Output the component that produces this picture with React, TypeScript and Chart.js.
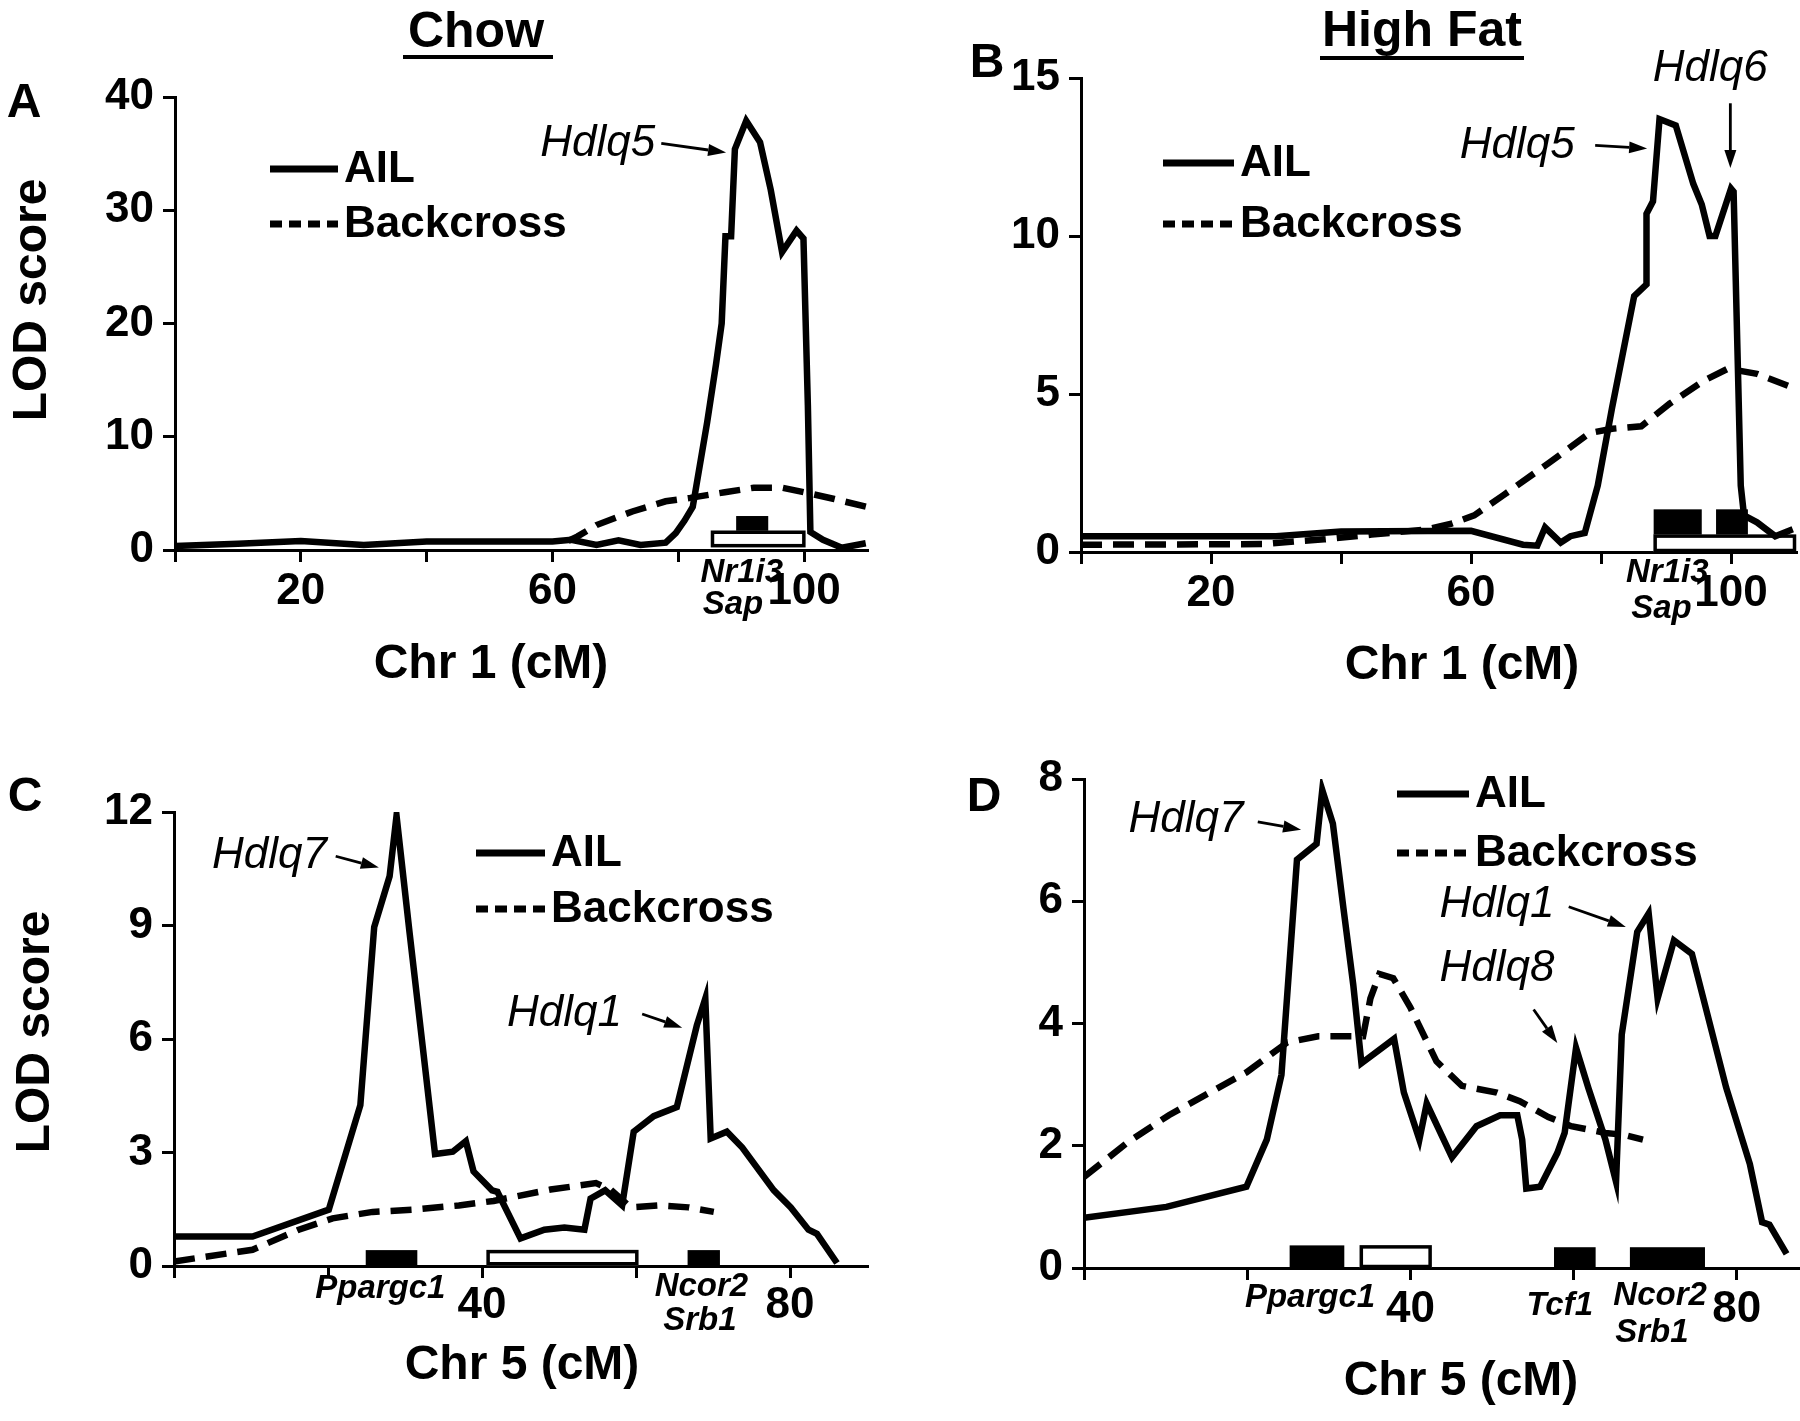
import React, { useEffect, useRef } from "react";
import { Chart, registerables } from "chart.js";

Chart.register(...registerables);

const FONT = '"Liberation Sans", Arial, Helvetica, sans-serif';

// ---------- DATA (cM, LOD) ----------
const A_AIL: [number, number][] = [
  [0, 0.35], [10, 0.55], [20, 0.8], [30, 0.45], [40, 0.75], [50, 0.75], [60, 0.75], [63, 0.9], [67, 0.45],
  [70.5, 0.85], [74, 0.45], [78, 0.65], [79.6, 1.5], [81, 2.6], [82.3, 3.8], [84.6, 11.3], [86, 16.4],
  [86.9, 20], [87.5, 27.7], [88.4, 27.7], [89, 35.4], [90.8, 37.9], [93, 36], [94.7, 31.8], [96.5, 26.3],
  [98.8, 28.2], [99.9, 27.5], [100.6, 12.8], [101, 1.6], [103, 0.9], [106, 0.2], [109.8, 0.6],
];
const A_BACKCROSS: [number, number][] = [
  [62.5, 0.8], [64, 1.2], [67, 2.2], [72.7, 3.4], [78, 4.3], [81.9, 4.6], [87.4, 5.1], [92, 5.5],
  [96.5, 5.5], [100, 5.1], [104.8, 4.5], [110, 3.8],
];

const B_AIL: [number, number][] = [
  [0, 0.5], [30, 0.5], [40, 0.65], [60, 0.67], [68, 0.23], [70.2, 0.2], [71.4, 0.78], [73.8, 0.3],
  [75.3, 0.5], [77.5, 0.6], [79.5, 2.1], [81.7, 4.56], [85.1, 8.1], [87, 8.47], [87, 10.7], [88, 11.1],
  [89, 13.7], [91.5, 13.5], [94.2, 11.65], [95.5, 11], [96.7, 10], [97.6, 10], [100, 11.5], [100.4, 11.4],
  [101.5, 2.1], [102, 1.16], [104, 0.94], [106.8, 0.5], [109.5, 0.72],
];
const B_BACKCROSS: [number, number][] = [
  [0, 0.23], [28, 0.25], [33, 0.34], [37.4, 0.4], [44.7, 0.55], [53.4, 0.72], [57, 0.9], [60.5, 1.16],
  [65, 1.8], [72, 2.82], [78.2, 3.76], [81.7, 3.9], [86.2, 3.98], [90.6, 4.7], [95.9, 5.43], [99.5, 5.8],
  [104, 5.64], [109.5, 5.2],
];

const C_AIL: [number, number][] = [
  [0, 0.78], [10.2, 0.78], [20.1, 1.49], [24.2, 4.25], [26, 8.96], [28, 10.3], [28.9, 11.9], [30.6, 8.8],
  [32.3, 5.8], [33.9, 2.96], [36.2, 3.02], [37.9, 3.3], [38.9, 2.5], [41.3, 2.0], [42, 1.96], [45, 0.73],
  [48.1, 0.96], [50.7, 1.02], [53.3, 0.96], [54.1, 1.78], [56, 2.0], [58.2, 1.6], [59.7, 3.55], [62.3, 3.96],
  [65.3, 4.2], [67.9, 6.36], [69, 7.07], [69.7, 3.37], [71.8, 3.55], [73.8, 3.13], [77.9, 2.0], [80.1, 1.55],
  [82.4, 0.96], [83.5, 0.85], [86.1, 0.08],
];
const C_BACKCROSS: [number, number][] = [
  [0, 0.12], [10.2, 0.43], [16.2, 0.96], [20.6, 1.26], [25.8, 1.43], [31, 1.49], [37, 1.6], [41.5, 1.72],
  [48.9, 2.02], [54.8, 2.19], [56.7, 2.02], [59.3, 1.55], [63, 1.6], [66.8, 1.55], [70.1, 1.43],
];

const D_AIL: [number, number][] = [
  [0, 0.82], [10.1, 1.0], [19.9, 1.33], [22.4, 2.1], [24.2, 3.16], [26.1, 6.68], [28.5, 6.94], [29.2, 7.82],
  [30.5, 7.27], [31.8, 5.88], [33, 4.63], [34, 3.35], [38, 3.75], [39.2, 2.87], [41.1, 2.1], [42, 2.69],
  [45.1, 1.81], [48.1, 2.32], [51, 2.5], [53.1, 2.5], [53.7, 2.1], [54.2, 1.3], [55.9, 1.33], [58, 1.88],
  [58.9, 2.21], [60.3, 3.6], [61.8, 2.95], [63.9, 2.1], [65.2, 1.41], [65.9, 3.82], [67.8, 5.5], [69.2, 5.8],
  [70.3, 4.41], [72.3, 5.36], [74.5, 5.14], [78.7, 2.95], [81.6, 1.7], [83.1, 0.75], [84, 0.71], [86.1, 0.23],
];
const D_BACKCROSS: [number, number][] = [
  [0, 1.49], [5.5, 2.07], [10.4, 2.5], [15.4, 2.87], [19.9, 3.2], [24.9, 3.69], [28.7, 3.79], [33, 3.79],
  [34.2, 3.79], [35.1, 4.41], [36.2, 4.81], [37.9, 4.74], [40, 4.26], [43.2, 3.38], [46.3, 2.98], [50.6, 2.87],
  [53.4, 2.73], [56.9, 2.47], [59.7, 2.32], [63.9, 2.21], [66.1, 2.18], [68.5, 2.1],
];

// tick labels shown on the x axes
const CHR1_X_LABELS = [20, 60, 100];
const CHR5_X_LABELS = [40, 80];

// marker intervals [x1, x2, y1, y2, filled]
type Rect = [number, number, number, number, boolean];
const A_MARKERS: Rect[] = [[85.2, 100.2, 0.25, 1.7, false], [89.2, 94.3, 1.7, 3.0, true]];
const B_MARKERS: Rect[] = [[88.1, 110, 0, 0.55, false], [88.1, 95.5, 0.55, 1.35, true], [97.7, 102.6, 0.55, 1.35, true]];
const C_MARKERS: Rect[] = [[24.9, 31.6, 0, 0.42, true], [40.6, 60.3, 0.02, 0.42, false], [66.7, 70.9, 0, 0.42, true]];
const D_MARKERS: Rect[] = [[25.2, 31.9, 0, 0.37, true], [33.8, 42.6, 0, 0.37, false], [57.6, 62.7, 0, 0.34, true], [66.9, 76.1, 0, 0.34, true]];

// ---------- LAYOUT / ANNOTATIONS ----------
type Note = { text: string; x: number; y: number };
type Arrow = { x1: number; y1: number; x2: number; y2: number };
type Gene = { text: string; x: number; dy: number };
type Spec = {
  ail: [number, number][];
  bc: [number, number][];
  xMax: number; yMax: number; yStep: number; xLabels: number[];
  canvas: { left: number; top: number; w: number; h: number };
  area: { left: number; top: number; right: number; bottom: number };
  xTickPad: number;
  yTitle?: { text: string; x: number; y: number };
  xTitle: { text: string; x: number; y: number };
  legend: { x: number; len: number; y1: number; y2: number };
  notes: Note[]; arrows: Arrow[]; rects: Rect[]; genes: Gene[];
};

const SPECS: Spec[] = [
  {
    ail: A_AIL, bc: A_BACKCROSS, xMax: 110, yMax: 40, yStep: 10, xLabels: CHR1_X_LABELS,
    canvas: { left: 0, top: 0, w: 900, h: 710 },
    area: { left: 175, top: 97, right: 867, bottom: 550 },
    xTickPad: 3,
    yTitle: { text: "LOD score", x: 33, y: 300 },
    xTitle: { text: "Chr 1 (cM)", x: 491, y: 665 },
    legend: { x: 270, len: 68, y1: 169, y2: 224 },
    notes: [{ text: "Hdlq5", x: 67.2, y: 35.9 }],
    arrows: [{ x1: 77.3, y1: 35.9, x2: 87.6, y2: 35.1 }],
    rects: A_MARKERS,
    genes: [{ text: "Nr1i3", x: 90.1, dy: 23 }, { text: "Sap", x: 88.7, dy: 55 }],
  },
  {
    ail: B_AIL, bc: B_BACKCROSS, xMax: 110, yMax: 15, yStep: 5, xLabels: CHR1_X_LABELS,
    canvas: { left: 900, top: 0, w: 900, h: 710 },
    area: { left: 181, top: 78, right: 896, bottom: 552 },
    xTickPad: 3,
    xTitle: { text: "Chr 1 (cM)", x: 562, y: 666 },
    legend: { x: 263, len: 71, y1: 163, y2: 224 },
    notes: [{ text: "Hdlq5", x: 67.1, y: 12.87 }, { text: "Hdlq6", x: 96.8, y: 15.3 }],
    arrows: [{ x1: 79.1, y1: 12.87, x2: 87.1, y2: 12.77 }, { x1: 99.9, y1: 14.2, x2: 99.9, y2: 12.15 }],
    rects: B_MARKERS,
    genes: [{ text: "Nr1i3", x: 90.2, dy: 21 }, { text: "Sap", x: 89.3, dy: 57 }],
  },
  {
    ail: C_AIL, bc: C_BACKCROSS, xMax: 90, yMax: 12, yStep: 3, xLabels: CHR5_X_LABELS,
    canvas: { left: 0, top: 710, w: 900, h: 711 },
    area: { left: 174, top: 102, right: 867, bottom: 556 },
    xTickPad: 1,
    yTitle: { text: "LOD score", x: 36, y: 322 },
    xTitle: { text: "Chr 5 (cM)", x: 522, y: 656 },
    legend: { x: 476, len: 69, y1: 143, y2: 199 },
    notes: [{ text: "Hdlq7", x: 12.4, y: 10.83 }, { text: "Hdlq1", x: 50.7, y: 6.66 }],
    arrows: [{ x1: 21, y1: 10.83, x2: 26.6, y2: 10.53 }, { x1: 60.8, y1: 6.66, x2: 66, y2: 6.3 }],
    rects: C_MARKERS,
    genes: [{ text: "Ppargc1", x: 26.8, dy: 23 }, { text: "Ncor2", x: 68.5, dy: 21 }, { text: "Srb1", x: 68.3, dy: 55 }],
  },
  {
    ail: D_AIL, bc: D_BACKCROSS, xMax: 87.5, yMax: 8, yStep: 2, xLabels: CHR5_X_LABELS,
    canvas: { left: 900, top: 710, w: 900, h: 711 },
    area: { left: 184, top: 69, right: 898, bottom: 558 },
    xTickPad: 3,
    xTitle: { text: "Chr 5 (cM)", x: 561, y: 672 },
    legend: { x: 497, len: 72, y1: 84, y2: 143 },
    notes: [{ text: "Hdlq7", x: 12.5, y: 7.34 }, { text: "Hdlq1", x: 50.6, y: 5.95 }, { text: "Hdlq8", x: 50.6, y: 4.89 }],
    arrows: [
      { x1: 21.3, y1: 7.3, x2: 26.6, y2: 7.17 },
      { x1: 59.4, y1: 5.91, x2: 66.4, y2: 5.58 },
      { x1: 55.1, y1: 4.23, x2: 58, y2: 3.68 },
    ],
    rects: D_MARKERS,
    genes: [
      { text: "Ppargc1", x: 27.7, dy: 30 },
      { text: "Tcf1", x: 58.3, dy: 38 },
      { text: "Ncor2", x: 70.6, dy: 28 },
      { text: "Srb1", x: 69.6, dy: 65 },
    ],
  },
];

const LINE_W = 6.5;
const DASH = [21, 11];

function makeOverlay(spec: Spec) {
  return {
    id: "overlay",
    beforeDatasetsDraw(chart: any) {
      const { ctx, scales } = chart;
      const xs = scales.x, ys = scales.y;
      ctx.save();
      spec.rects.forEach(([x1, x2, y1, y2, filled]) => {
        const px1 = xs.getPixelForValue(x1), px2 = xs.getPixelForValue(x2);
        const py1 = ys.getPixelForValue(y1), py2 = ys.getPixelForValue(y2);
        const l = Math.min(px1, px2), t = Math.min(py1, py2);
        const w = Math.abs(px2 - px1), h = Math.abs(py2 - py1);
        if (filled) {
          ctx.fillStyle = "#000";
          ctx.fillRect(l, t, w, h);
        } else {
          ctx.fillStyle = "#fff";
          ctx.fillRect(l, t, w, h);
          ctx.strokeStyle = "#000";
          ctx.lineWidth = 3.5;
          ctx.strokeRect(l + 1.5, t + 1.5, w - 3, h - 3);
        }
      });
      ctx.restore();
    },
    afterDraw(chart: any) {
      const { ctx, scales, chartArea } = chart;
      const xs = scales.x, ys = scales.y;
      ctx.save();
      ctx.fillStyle = "#000";
      ctx.strokeStyle = "#000";
      // QTL notes
      ctx.font = `italic 44px ${FONT}`;
      ctx.textAlign = "center";
      ctx.textBaseline = "middle";
      spec.notes.forEach((n) => {
        ctx.fillText(n.text, xs.getPixelForValue(n.x), ys.getPixelForValue(n.y));
      });
      // arrows
      spec.arrows.forEach((a) => {
        const x1 = xs.getPixelForValue(a.x1), y1 = ys.getPixelForValue(a.y1);
        const x2 = xs.getPixelForValue(a.x2), y2 = ys.getPixelForValue(a.y2);
        const ang = Math.atan2(y2 - y1, x2 - x1);
        const hl = 18, hw = 6;
        const bx = x2 - hl * Math.cos(ang), by = y2 - hl * Math.sin(ang);
        ctx.lineWidth = 2.8;
        ctx.setLineDash([]);
        ctx.beginPath();
        ctx.moveTo(x1, y1);
        ctx.lineTo(bx, by);
        ctx.stroke();
        ctx.beginPath();
        ctx.moveTo(x2, y2);
        ctx.lineTo(bx + hw * Math.sin(ang), by - hw * Math.cos(ang));
        ctx.lineTo(bx - hw * Math.sin(ang), by + hw * Math.cos(ang));
        ctx.closePath();
        ctx.fill();
      });
      // gene labels below axis
      ctx.font = `italic bold 33px ${FONT}`;
      spec.genes.forEach((g) => {
        ctx.fillText(g.text, xs.getPixelForValue(g.x), chartArea.bottom + g.dy);
      });
      // axis titles
      ctx.font = `bold 48px ${FONT}`;
      ctx.fillText(spec.xTitle.text, spec.xTitle.x, spec.xTitle.y);
      if (spec.yTitle) {
        ctx.save();
        ctx.translate(spec.yTitle.x, spec.yTitle.y);
        ctx.rotate(-Math.PI / 2);
        ctx.fillText(spec.yTitle.text, 0, 0);
        ctx.restore();
      }
      // legend
      const ds = chart.data.datasets;
      const rows = [spec.legend.y1, spec.legend.y2];
      ctx.font = `bold 44px ${FONT}`;
      ctx.textAlign = "left";
      ds.forEach((d: any, i: number) => {
        const y = rows[i];
        ctx.lineWidth = 7;
        ctx.setLineDash(i === 1 ? [12, 7] : []);
        ctx.beginPath();
        ctx.moveTo(spec.legend.x, y);
        ctx.lineTo(spec.legend.x + spec.legend.len, y);
        ctx.stroke();
        ctx.setLineDash([]);
        ctx.fillText(d.label, spec.legend.x + spec.legend.len + 6, y + 1);
      });
      ctx.restore();
    },
  };
}

function Panel({ spec }: { spec: Spec }) {
  const ref = useRef<HTMLCanvasElement | null>(null);
  useEffect(() => {
    const canvas = ref.current;
    if (!canvas) return;
    const axisGrid = {
      display: true,
      drawOnChartArea: false,
      drawTicks: true,
      tickLength: 12,
      color: "#000",
      lineWidth: 3,
    };
    const axisBorder = { display: true, color: "#000", width: 3 };
    const tickFont = { family: FONT, size: 44, weight: "bold" as const };
    const chart = new Chart(canvas, {
      type: "line",
      data: {
        datasets: [
          {
            label: "AIL",
            data: spec.ail.map(([x, y]) => ({ x, y })),
            borderColor: "#000",
            borderWidth: LINE_W,
            pointRadius: 0,
            tension: 0,
            fill: false,
          },
          {
            label: "Backcross",
            data: spec.bc.map(([x, y]) => ({ x, y })),
            borderColor: "#000",
            borderWidth: LINE_W,
            borderDash: DASH,
            pointRadius: 0,
            tension: 0,
            fill: false,
          },
        ],
      },
      options: {
        responsive: false,
        maintainAspectRatio: false,
        animation: false,
        events: [],
        layout: {
          padding: {
            left: 0,
            top: spec.area.top,
            right: spec.canvas.w - spec.area.right,
            bottom: 0,
          },
        },
        plugins: { legend: { display: false }, tooltip: { enabled: false }, title: { display: false } },
        scales: {
          x: {
            type: "linear",
            min: 0,
            max: spec.xMax,
            ticks: {
              stepSize: 20,
              includeBounds: false,
              autoSkip: false,
              maxRotation: 0,
              color: "#000",
              font: tickFont,
              padding: spec.xTickPad,
              callback: (v: any) => (spec.xLabels.includes(Number(v)) ? String(v) : ""),
            },
            grid: axisGrid,
            border: axisBorder,
            afterFit: (s: any) => {
              s.height = spec.canvas.h - spec.area.bottom;
            },
          },
          y: {
            type: "linear",
            min: 0,
            max: spec.yMax,
            ticks: {
              stepSize: spec.yStep,
              includeBounds: false,
              autoSkip: false,
              color: "#000",
              font: tickFont,
              padding: 9,
            },
            grid: axisGrid,
            border: axisBorder,
            afterFit: (s: any) => {
              s.width = spec.area.left;
            },
          },
        },
      } as any,
      plugins: [makeOverlay(spec)],
    });
    return () => chart.destroy();
  }, [spec]);
  return (
    <canvas
      ref={ref}
      width={spec.canvas.w}
      height={spec.canvas.h}
      style={{
        position: "absolute",
        left: spec.canvas.left,
        top: spec.canvas.top,
        width: spec.canvas.w,
        height: spec.canvas.h,
      }}
    />
  );
}

const textBase: React.CSSProperties = {
  position: "absolute",
  transform: "translate(-50%, -50%)",
  fontWeight: "bold",
  lineHeight: 1,
  whiteSpace: "nowrap",
  color: "#000",
};

export default function App() {
  return (
    <div
      style={{
        position: "absolute",
        left: 0,
        top: 0,
        width: 1800,
        height: 1421,
        background: "#fff",
        overflow: "hidden",
        fontFamily: FONT,
      }}
    >
      {SPECS.map((s, i) => (
        <Panel key={i} spec={s} />
      ))}
      <div style={{ ...textBase, left: 476, top: 30, fontSize: 50 }}>Chow</div>
      <div style={{ position: "absolute", left: 403, top: 55, width: 150, height: 4, background: "#000" }} />
      <div style={{ ...textBase, left: 1422, top: 29, fontSize: 50 }}>High Fat</div>
      <div style={{ position: "absolute", left: 1320, top: 56, width: 204, height: 4, background: "#000" }} />
      <div style={{ ...textBase, left: 24, top: 101, fontSize: 48 }}>A</div>
      <div style={{ ...textBase, left: 987, top: 61, fontSize: 48 }}>B</div>
      <div style={{ ...textBase, left: 25, top: 795, fontSize: 48 }}>C</div>
      <div style={{ ...textBase, left: 984, top: 795, fontSize: 48 }}>D</div>
    </div>
  );
}
